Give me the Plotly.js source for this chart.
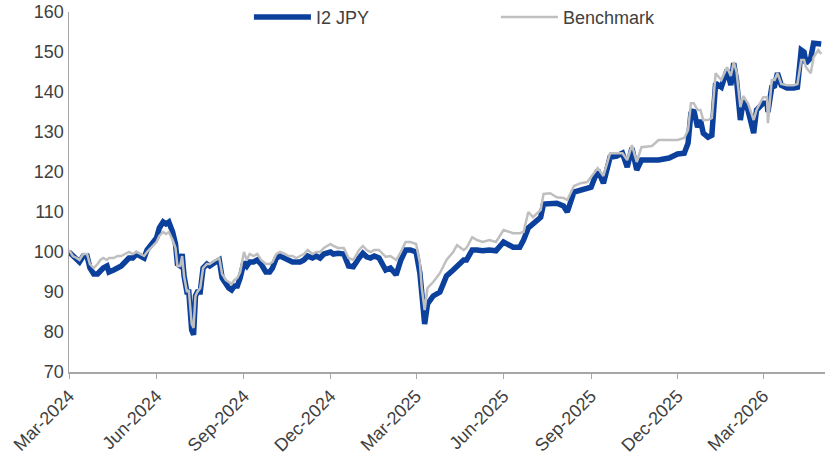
<!DOCTYPE html>
<html>
<head>
<meta charset="utf-8">
<script src="https://cdn.plot.ly/plotly-3.0.1.min.js"></script>
<style>html,body{margin:0;padding:0;background:#fff;}#chart{width:831px;height:455px;}</style>
</head>
<body>
<div id="chart"></div>
<script>
const dates = [
'2024-03-01','2024-03-05','2024-03-09','2024-03-12','2024-03-16','2024-03-20','2024-03-23','2024-03-27','2024-03-31','2024-04-03',
'2024-04-06','2024-04-10','2024-04-12','2024-04-17','2024-04-21','2024-04-25','2024-04-29','2024-05-03','2024-05-07','2024-05-11',
'2024-05-15','2024-05-19','2024-05-22','2024-05-26','2024-06-01','2024-06-04','2024-06-08','2024-06-11','2024-06-14','2024-06-18',
'2024-06-21','2024-06-23','2024-06-26','2024-06-28','2024-06-30','2024-07-03','2024-07-05','2024-07-08','2024-07-10','2024-07-12',
'2024-07-14','2024-07-17','2024-07-20','2024-07-24','2024-07-27','2024-07-30','2024-08-03','2024-08-06','2024-08-09','2024-08-13',
'2024-08-16','2024-08-19','2024-08-22','2024-08-25','2024-08-28','2024-09-01','2024-09-04','2024-09-07','2024-09-11','2024-09-15',
'2024-09-19','2024-09-24','2024-09-28','2024-10-01','2024-10-05','2024-10-09','2024-10-14','2024-10-18','2024-10-22','2024-10-26',
'2024-10-30','2024-11-03','2024-11-07','2024-11-12','2024-11-16','2024-11-20','2024-11-24','2024-12-01','2024-12-04','2024-12-09',
'2024-12-15','2024-12-20','2024-12-25','2024-12-31','2025-01-04','2025-01-08','2025-01-12','2025-01-16','2025-01-21','2025-01-28',
'2025-02-02','2025-02-08','2025-02-13','2025-02-18','2025-02-23','2025-03-01','2025-03-05','2025-03-07','2025-03-10','2025-03-13',
'2025-03-19','2025-03-26','2025-04-02','2025-04-09','2025-04-13','2025-04-20','2025-04-23','2025-04-29','2025-05-04','2025-05-10',
'2025-05-17','2025-05-24','2025-06-01','2025-06-11','2025-06-18','2025-06-22','2025-06-27','2025-07-02','2025-07-10','2025-07-13',
'2025-07-20','2025-07-27','2025-08-03','2025-08-07','2025-08-14','2025-08-21','2025-08-28','2025-09-01','2025-09-08','2025-09-14',
'2025-09-21','2025-09-28','2025-10-04','2025-10-09','2025-10-14','2025-10-19','2025-10-24','2025-11-04','2025-11-11','2025-11-22',
'2025-12-01','2025-12-08','2025-12-12','2025-12-15','2025-12-18','2025-12-22','2025-12-25','2025-12-28','2026-01-02','2026-01-06',
'2026-01-10','2026-01-16','2026-01-22','2026-01-26','2026-01-29','2026-02-01','2026-02-05','2026-02-08','2026-02-13','2026-02-19',
'2026-02-22','2026-03-01','2026-03-05','2026-03-06','2026-03-10','2026-03-13','2026-03-16','2026-03-20','2026-03-26','2026-04-02',
'2026-04-06','2026-04-10','2026-04-13','2026-04-15','2026-04-20','2026-04-23','2026-04-28','2026-05-01'
];
const i2jpy = [
100,99,98,97.5,99,99,96,94.5,94.5,95.5,
96,96.5,95,95.5,96,96.5,97.5,98.5,98.5,99.5,
99,98.5,100.5,101.5,103.5,106,107.5,107,107.5,105,
102,97,96.5,99.5,94,90,90,80.5,79.3,89,
90,90,96,97,96.5,97,97.5,98,93.5,92,
91,90.5,91.5,91.5,93.5,97.5,96.5,97.5,97.5,98,
97,95,95,96,98.5,99,98.5,98,97.5,97.5,
97.5,98,99,98.5,99,98.5,99.5,100,99.5,99.7,
99.5,96.5,96.3,98.5,99.7,98.8,98.5,99,98.5,95.5,
96,94.3,98,100.5,100.5,100,94.7,89.7,82,87,
89,90,94,95.5,96.5,98,98,100.5,100.5,100.3,
100.5,100.3,102.5,101.2,101.2,103,106,107.2,108.7,112,
112.2,112.2,111.5,110,115,115.5,115.8,116.2,120.5,117.2,
123.7,124,124.7,121.2,126,120.5,123,123,123,123.5,
124.5,124.7,127.2,134.7,135.5,131.2,133,129.7,128.7,129.2,
142.2,141.2,145.5,141.7,147.2,143,133,138,135.5,129.7,
135.5,137.2,137.2,135,141.2,141.5,144.7,141.7,141,141,
141.2,150.5,150,147.2,148.5,152.2,152.2,152
];
const benchmark = [
100.5,99,98.5,98,99.5,99.5,97,96,97,98,
98.5,98,98.5,98.5,99,99,99.5,100,99.5,100,
99.5,99,100,101,102.5,104,105,104.5,105,103,
101,96.5,96.5,99,94,90,90.5,82,81,89,
90,91,96,97,97,97.5,98,98.5,94.5,93,
92.5,92,93,93.5,95,100,98,99.5,99,99.5,
98,97,97,97.5,99.5,100,99.5,99,99,98.5,
99,99.5,100.5,99.5,100,100,101,102,101.5,101,
101,98.5,98,100.5,101.5,100.5,100,100.5,100.5,98.8,
99,98,100,102.5,102.5,102,97.3,91,85.5,91,
92.5,94.7,98,100,101.7,100.5,101,103.7,103,102.5,
103,102.5,105.5,104.7,104.7,105,110,108.7,110.5,114.5,
114.7,113.7,113.5,113,116.5,117.2,117.5,118.7,121,119,
124.7,124.7,124.7,123,126.7,122.5,126.2,126.5,128,128,
128,128.5,130.5,137.2,137.2,135.5,135.5,133,133,133.5,
144.7,143,146.2,144,147.5,145,136.2,139,137.2,133,
135.5,138.7,138.7,132.2,143,143,144.7,142,141.7,141.7,
142,148,148,146.2,144.7,148.7,150.5,149.5
];
const yTicks = [70,80,90,100,110,120,130,140,150,160];
const xTickVals = ['2024-03-01','2024-06-01','2024-09-01','2024-12-01','2025-03-01','2025-06-01','2025-09-01','2025-12-01','2026-03-01'];
const xTickText = ['Mar-2024','Jun-2024','Sep-2024','Dec-2024','Mar-2025','Jun-2025','Sep-2025','Dec-2025','Mar-2026'];

const traces = [
  {x: dates, y: i2jpy, name: 'I2 JPY', type: 'scatter', mode: 'lines',
   line: {color: '#0b409c', width: 5.5, shape: 'linear'}},
  {x: dates, y: benchmark, name: 'Benchmark', type: 'scatter', mode: 'lines',
   line: {color: '#bfbfbf', width: 2.5}}
];
const layout = {
  width: 831, height: 455,
  margin: {l: 69, r: 6, t: 12, b: 83, autoexpand: false},
  paper_bgcolor: '#ffffff', plot_bgcolor: '#ffffff',
  font: {family: 'Liberation Sans, Arial, sans-serif', size: 18, color: '#404040'},
  showlegend: true,
  legend: {orientation: 'h', x: 0.238, y: 0.985, xanchor: 'left', yanchor: 'middle',
    itemwidth: 57, entrywidth: 175, entrywidthmode: 'pixels', font: {size: 18, color: '#404040'},
    bgcolor: 'rgba(255,255,255,0)'},
  xaxis: {type: 'date', range: ['2024-03-01', '2026-05-05'], tickmode: 'array',
    tickvals: xTickVals, ticktext: xTickText, tickangle: -45, automargin: false,
    ticks: 'outside', ticklen: 5, tickcolor: '#a6a6a6',
    showline: true, linecolor: '#a6a6a6', linewidth: 1.5, showgrid: false, zeroline: false,
    tickfont: {size: 18, color: '#404040'}},
  yaxis: {range: [70, 160], tickmode: 'array', tickvals: yTicks, automargin: false,
    showline: true, linecolor: '#a6a6a6', linewidth: 1.5, showgrid: false, zeroline: false,
    ticks: '', tickfont: {size: 18, color: '#404040'}}
};
Plotly.newPlot('chart', traces, layout, {displayModeBar: false, staticPlot: true});
</script>
</body>
</html>
